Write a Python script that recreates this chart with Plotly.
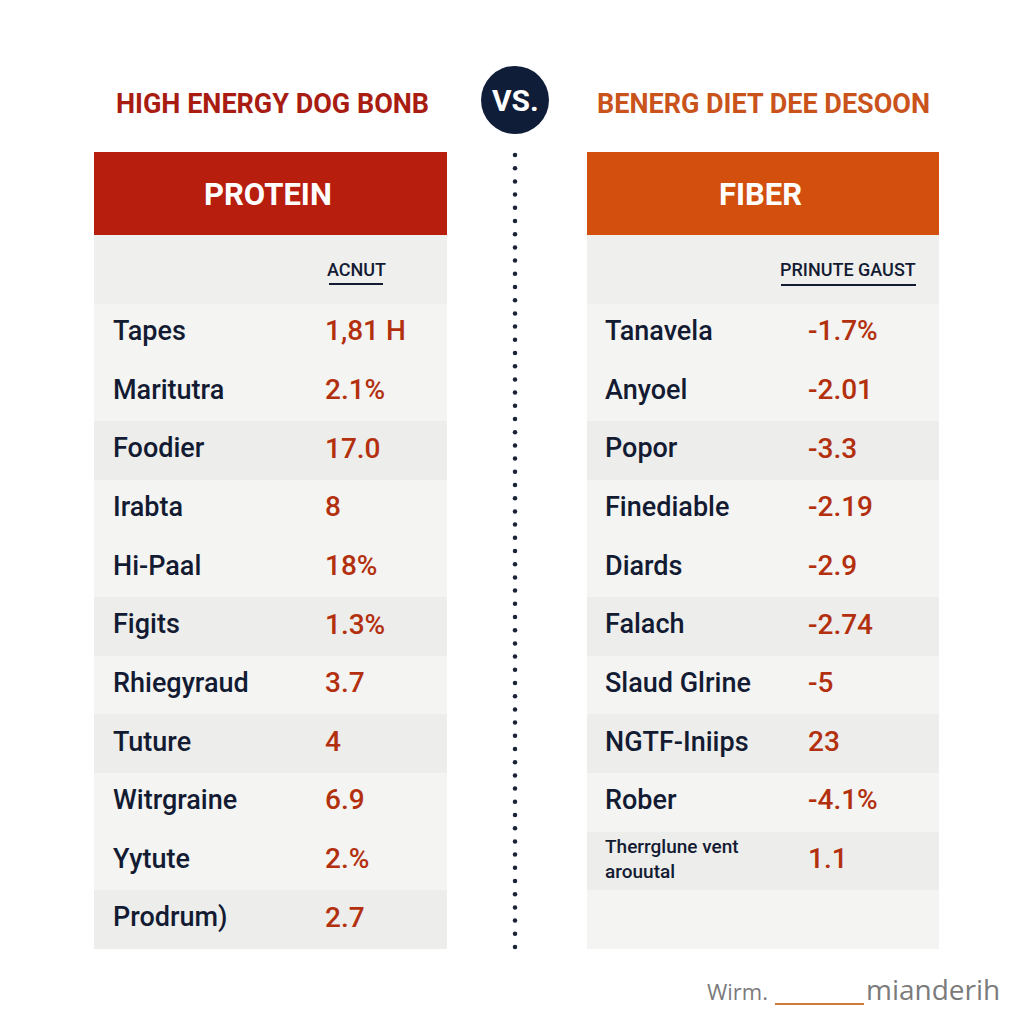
import numpy as np
import plotly.graph_objects as go

# ---------------- data ----------------
left_title = "HIGH ENERGY DOG BONB"
right_title = "BENERG DIET DEE DESOON"
left_header = "PROTEIN"
right_header = "FIBER"
left_col_label = "ACNUT"
right_col_label = "PRINUTE GAUST"

left_items = ["Tapes", "Maritutra", "Foodier", "Irabta", "Hi-Paal", "Figits",
              "Rhiegyraud", "Tuture", "Witrgraine", "Yytute", "Prodrum)"]
left_values = ["1,81 H", "2.1%", "17.0", "8", "18%", "1.3%",
               "3.7", "4", "6.9", "2.%", "2.7"]

right_items = ["Tanavela", "Anyoel", "Popor", "Finediable", "Diards", "Falach",
               "Slaud Glrine", "NGTF-Iniips", "Rober",
               "Therrglune vent<br>arouutal", ""]
right_values = ["-1.7%", "-2.01", "-3.3", "-2.19", "-2.9", "-2.74",
                "-5", "23", "-4.1%", "1.1", ""]

row_shade_left = [0, 0, 1, 0, 0, 1, 0, 1, 0, 0, 1]
row_shade_right = [0, 0, 1, 0, 0, 1, 0, 1, 0, 1, 0]

footer_left = "Wirm."
footer_right = "mianderih"

# ---------------- style ----------------
FONT = "Roboto, Liberation Sans Narrow, DejaVu Sans Condensed, sans-serif"
NAVY = "#131b33"
RED_TXT = "#b3300f"
shade_cols = ["#f4f4f2", "#ededeb"]
PAGE_OFF = 8  # html body margin

rows = list(range(len(left_items)))

fig = go.Figure()

# row stripes (bars on the row axis)
fig.add_trace(go.Bar(orientation="h", y=rows, x=[353] * len(rows), base=94,
                     width=1, marker=dict(color=[shade_cols[s] for s in row_shade_left], line_width=0),
                     xaxis="x", yaxis="y2", hoverinfo="skip", showlegend=False))
fig.add_trace(go.Bar(orientation="h", y=rows, x=[352] * len(rows), base=587,
                     width=1, marker=dict(color=[shade_cols[s] for s in row_shade_right], line_width=0),
                     xaxis="x", yaxis="y2", hoverinfo="skip", showlegend=False))

# labels and values
fig.add_trace(go.Scatter(mode="text", x=[113] * len(rows), y=rows, text=left_items,
                         textposition="middle right",
                         textfont=dict(family=FONT, size=27, color=NAVY, weight=500),
                         xaxis="x", yaxis="y2", hoverinfo="skip", showlegend=False))
fig.add_trace(go.Scatter(mode="text", x=[325] * len(rows), y=rows, text=left_values,
                         textposition="middle right",
                         textfont=dict(family=FONT, size=28, color=RED_TXT, weight=500),
                         xaxis="x", yaxis="y2", hoverinfo="skip", showlegend=False))
rsizes = [27] * len(rows)
rsizes[9] = 19
fig.add_trace(go.Scatter(mode="text", x=[605] * len(rows), y=rows, text=right_items,
                         textposition="middle right",
                         textfont=dict(family=FONT, size=rsizes, color=NAVY, weight=500),
                         xaxis="x", yaxis="y2", hoverinfo="skip", showlegend=False))
fig.add_trace(go.Scatter(mode="text", x=[808] * len(rows), y=rows, text=right_values,
                         textposition="middle right",
                         textfont=dict(family=FONT, size=28, color=RED_TXT, weight=500),
                         xaxis="x", yaxis="y2", hoverinfo="skip", showlegend=False))

# dotted divider
dot_y = np.arange(155, 950, 13.2)
fig.add_trace(go.Scatter(mode="markers", x=[515] * len(dot_y), y=dot_y,
                         marker=dict(size=4.5, color="#1a2238"),
                         xaxis="x", yaxis="y", hoverinfo="skip", showlegend=False))

shapes = []
for x0, x1 in [(94, 447), (587, 939)]:
    shapes.append(dict(type="rect", xref="x", yref="y", x0=x0, x1=x1, y0=235, y1=304,
                       fillcolor="#efefed", line_width=0, layer="below"))
shapes.append(dict(type="rect", xref="x", yref="y", x0=94, x1=447, y0=152, y1=235,
                   fillcolor="#b81e0d", line_width=0))
shapes.append(dict(type="rect", xref="x", yref="y", x0=587, x1=939, y0=152, y1=235,
                   fillcolor="#d24f0e", line_width=0))
shapes.append(dict(type="line", xref="x", yref="y", x0=329, x1=383, y0=284, y1=284,
                   line=dict(color=NAVY, width=2)))
shapes.append(dict(type="line", xref="x", yref="y", x0=781, x1=916, y0=285, y1=285,
                   line=dict(color=NAVY, width=2)))
shapes.append(dict(type="circle", xref="x", yref="y", x0=481, x1=549, y0=66, y1=134,
                   fillcolor="#0f1d38", line_width=0))
shapes.append(dict(type="line", xref="x", yref="y", x0=775, x1=864, y0=1004, y1=1004,
                   line=dict(color="#d07a3c", width=2)))

ann = []
ann.append(dict(x=272, y=104, text=left_title, font=dict(family=FONT, size=27, color="#a81c12", weight=700)))
ann.append(dict(x=763, y=104, text=right_title, font=dict(family=FONT, size=27, color="#c9531b", weight=700)))
ann.append(dict(x=515, y=100, text="VS.", font=dict(family=FONT, size=30, color="white", weight=700)))
ann.append(dict(x=268, y=194, text=left_header, font=dict(family=FONT, size=31, color="white", weight=700)))
ann.append(dict(x=760, y=194, text=right_header, font=dict(family=FONT, size=31, color="white", weight=700)))
ann.append(dict(x=356, y=269, text=left_col_label, font=dict(family=FONT, size=18, color=NAVY, weight=500)))
ann.append(dict(x=848, y=269, text=right_col_label, font=dict(family=FONT, size=18, color=NAVY, weight=500)))
ann.append(dict(x=770, y=991, text=footer_left, xanchor="right",
                font=dict(family="Open Sans, sans-serif", size=22, color="#7b7b7b")))
ann.append(dict(x=864, y=989, text=footer_right, xanchor="left",
                font=dict(family="Open Sans, sans-serif", size=28, color="#7b7b7b")))
for a in ann:
    a.update(xref="x", yref="y", showarrow=False)
    a.setdefault("xanchor", "center")
    a["yanchor"] = "middle"

fig.update_layout(
    width=1024, height=1024,
    margin=dict(l=0, r=0, t=0, b=0),
    paper_bgcolor="white", plot_bgcolor="rgba(0,0,0,0)",
    xaxis=dict(range=[PAGE_OFF, 1024 + PAGE_OFF], visible=False, fixedrange=True, domain=[0, 1]),
    yaxis=dict(range=[1024 + PAGE_OFF, PAGE_OFF], visible=False, fixedrange=True, domain=[0, 1]),
    yaxis2=dict(range=[10.5, -0.5], visible=False, fixedrange=True,
                domain=[(1024 - (949 - PAGE_OFF)) / 1024, (1024 - (304 - PAGE_OFF)) / 1024], anchor="x"),
    shapes=shapes, annotations=ann,
    barmode="overlay", bargap=0, showlegend=False,
)

fig.write_html("out.html")
